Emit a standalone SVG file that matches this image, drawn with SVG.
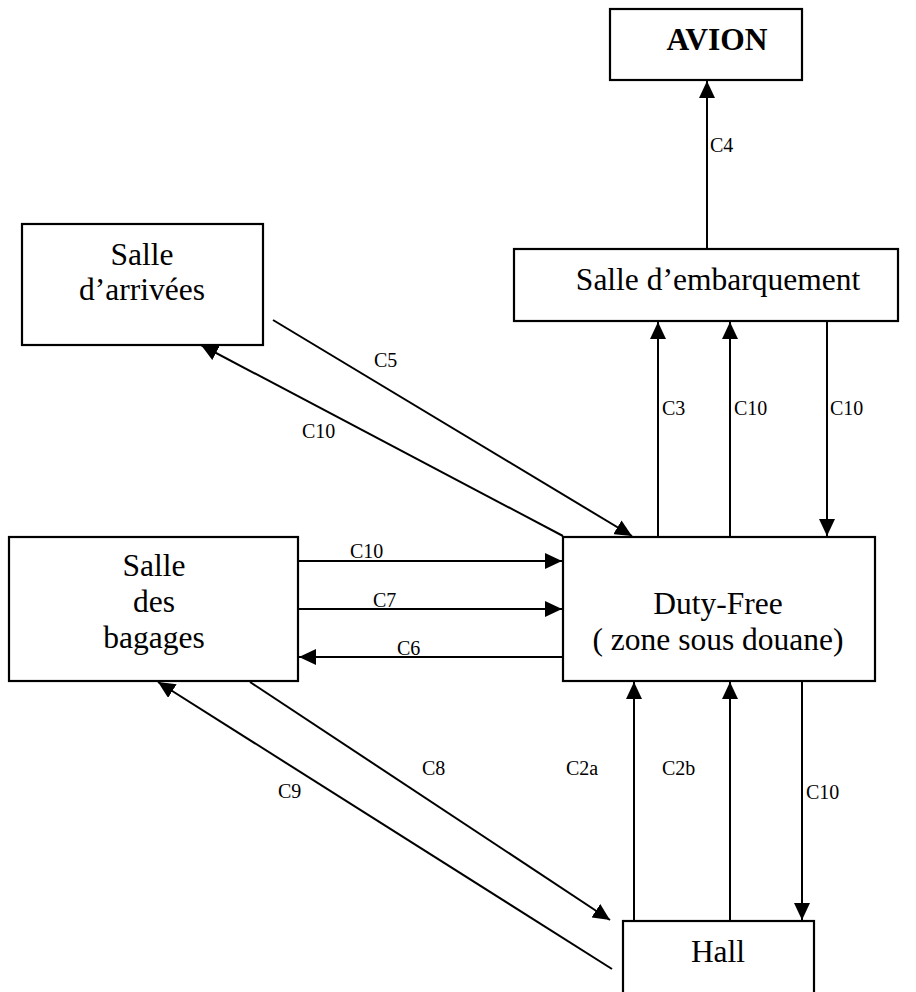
<svg xmlns="http://www.w3.org/2000/svg" width="916" height="992" viewBox="0 0 916 992">
  <style>
    .box { fill: #fff; stroke: #000; stroke-width: 2.2; }
    .name { font-family: 'Liberation Serif', serif; font-size: 31.5px; fill: #000; text-anchor: middle; }
    .bold { font-weight: bold; }
    .wire { fill: none; stroke: #000; stroke-width: 2; }
    .arrow { marker-end: url(#head); }
    .lbl { font-family: 'Liberation Serif', serif; font-size: 20px; fill: #000; }
  </style>
  <defs>
    <marker id="head" markerUnits="userSpaceOnUse" markerWidth="17" markerHeight="16" refX="17" refY="8" orient="auto">
      <path d="M0,0 L17,8 L0,16 z" fill="#000"/>
    </marker>
  </defs>
  <rect width="916" height="992" fill="#fff"/>

  <!-- connectors -->
  <g id="connectors">
    <line class="wire arrow" x1="707" y1="249" x2="707" y2="81"/>
    <line class="wire arrow" x1="658" y1="536" x2="658" y2="322"/>
    <line class="wire arrow" x1="730" y1="536" x2="730" y2="322"/>
    <line class="wire arrow" x1="827" y1="322" x2="827" y2="536"/>
    <line class="wire arrow" x1="273" y1="320" x2="632" y2="536"/>
    <line class="wire arrow" x1="563" y1="536" x2="201" y2="345"/>
    <line class="wire arrow" x1="298" y1="561" x2="562" y2="561"/>
    <line class="wire arrow" x1="298" y1="609" x2="562" y2="609"/>
    <line class="wire arrow" x1="563" y1="657" x2="299" y2="657"/>
    <line class="wire arrow" x1="250" y1="682" x2="610" y2="920"/>
    <line class="wire arrow" x1="612" y1="969" x2="158" y2="682"/>
    <line class="wire arrow" x1="634" y1="921" x2="634" y2="682"/>
    <line class="wire arrow" x1="730" y1="921" x2="730" y2="682"/>
    <line class="wire arrow" x1="802" y1="682" x2="802" y2="920"/>

    <text class="lbl" x="710" y="152" font-family="Liberation Serif, serif">C4</text>
    <text class="lbl" x="662" y="415">C3</text>
    <text class="lbl" x="734" y="415">C10</text>
    <text class="lbl" x="830" y="415">C10</text>
    <text class="lbl" x="374" y="367">C5</text>
    <text class="lbl" x="302" y="438">C10</text>
    <text class="lbl" x="350" y="558">C10</text>
    <text class="lbl" x="373" y="607">C7</text>
    <text class="lbl" x="397" y="655">C6</text>
    <text class="lbl" x="422" y="775">C8</text>
    <text class="lbl" x="278" y="798">C9</text>
    <text class="lbl" x="566" y="775">C2a</text>
    <text class="lbl" x="662" y="775">C2b</text>
    <text class="lbl" x="806" y="799">C10</text>
  </g>

  <!-- nodes -->
  <g id="avion">
    <rect class="box" x="610" y="9" width="192" height="71"/>
    <text class="name bold" x="717" y="50">AVION</text>
  </g>
  <g id="salle-arrivees">
    <rect class="box" x="22" y="224" width="241" height="121"/>
    <text class="name" x="142" y="265">Salle</text>
    <text class="name" x="142" y="300">d’arrivées</text>
  </g>
  <g id="salle-embarquement">
    <rect class="box" x="514" y="249" width="384" height="72"/>
    <text class="name" x="718" y="290">Salle d’embarquement</text>
  </g>
  <g id="salle-bagages">
    <rect class="box" x="9" y="537" width="289" height="144"/>
    <text class="name" x="154" y="576">Salle</text>
    <text class="name" x="154" y="612">des</text>
    <text class="name" x="154" y="648">bagages</text>
  </g>
  <g id="duty-free">
    <rect class="box" x="563" y="537" width="312" height="144"/>
    <text class="name" x="718" y="614">Duty-Free</text>
    <text class="name" x="718" y="650">( zone sous douane)</text>
  </g>
  <g id="hall">
    <rect class="box" x="623" y="921" width="191" height="80"/>
    <text class="name" x="718" y="962">Hall</text>
  </g>
</svg>
